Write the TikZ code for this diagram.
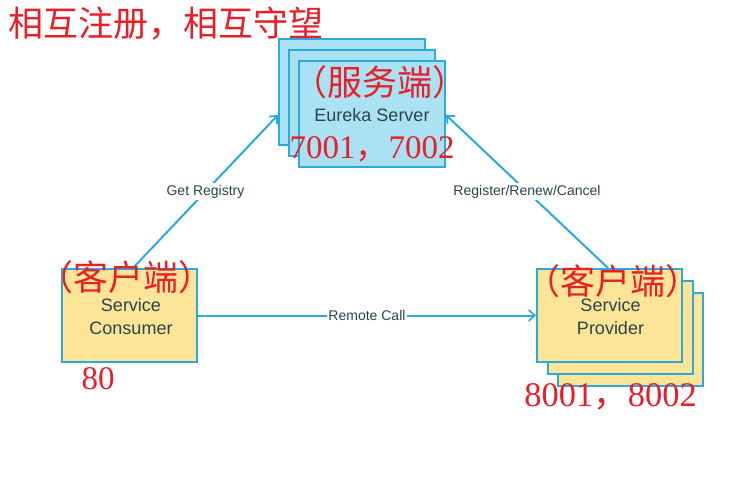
\documentclass[tikz,border=0pt]{standalone}
\usepackage{fontspec}
\setmainfont{Liberation Serif}
\newfontfamily\cjk{Noto Sans CJK SC}
\newfontfamily\sansf{Liberation Sans}
\usetikzlibrary{arrows.meta}
\definecolor{lineblue}{RGB}{41,171,226}
\definecolor{srvfill}{RGB}{170,226,243}
\definecolor{clfill}{RGB}{253,228,150}
\definecolor{labeltext}{RGB}{42,68,78}
\definecolor{redtext}{RGB}{232,30,40}
\tikzset{
  box/.style={draw=lineblue, line width=2pt, inner sep=0pt},
  srvbox/.style={box, fill=srvfill, minimum width=146pt, minimum height=106pt},
  clbox/.style={box, fill=clfill, minimum width=#1, minimum height=93pt},
  conn/.style={draw=lineblue, line width=2pt, -{Straight Barb[length=6pt,width=11pt,line width=1.7pt]}},
  lbl/.style={fill=white, text=labeltext, font=\sansf\fontsize{14}{14}\selectfont, inner sep=1.5pt},
  boxtxt/.style={text=labeltext, font=\sansf\fontsize{18}{23}\selectfont, align=center, inner sep=0pt},
  redtxt/.style={text=redtext, inner sep=0pt},
  redcjk/.style={redtxt, font=\cjk\fontsize{35}{35}\selectfont},
  reddig/.style={redtxt, font=\fontsize{33}{33}\selectfont}
}
\begin{document}
\begin{tikzpicture}[x=1pt,y=-1pt]
\useasboundingbox (0,0) rectangle (744,479);
% Eureka server stack
\node[srvbox] (eb) at (352,92) {};
\node[srvbox] (em) at (362,103) {};
\node[srvbox] (ef) at (372,114) {};
\node[boxtxt] (etxt) at (372,115) {Eureka Server};
% Provider stack (front is top-left)
\node[clbox=145pt] (pb) at (630.5,339.5) {};
\node[clbox=145pt] (pm) at (620,327.5) {};
\node[clbox=145pt] (prov) at (609.5,315.5) {};
\node[boxtxt] (ptxt) at (610.5,316.5) {Service\\Provider};
% Consumer
\node[clbox=135pt] (cons) at (129.5,315.5) {};
\node[boxtxt] (ctxt) at (131,316.5) {Service\\Consumer};
% Connectors
\draw[conn] ([xshift=3.5pt]cons.north) -- node[lbl] (lget) {Get Registry} ([yshift=-23pt]eb.west);
\draw[conn] ([xshift=-1.5pt]prov.north) -- node[lbl] (lreg) {Register/Renew/Cancel} ([yshift=-1pt]ef.east);
\draw[conn] (cons.east) -- node[lbl] (lrem) {Remote Call} (prov.west);
% Red annotations
\node[redcjk] (title) at (166.5,24) {相互注册，相互守望};
\node[redcjk] (srvtag) at (379.5,82) {（服务端）};
\node[redcjk] (constag) at (126,277) {（客户端）};
\node[redcjk] (provtag) at (613,281) {（客户端）};
\node[reddig] (srvport) at (372,149) {7001{\cjk ，}7002};
\node[reddig] (consport) at (98,379) {80};
\node[reddig, font=\fontsize{34.5}{34.5}\selectfont] (provport) at (610.5,397) {8001{\cjk ，}8002};
\end{tikzpicture}
\end{document}
